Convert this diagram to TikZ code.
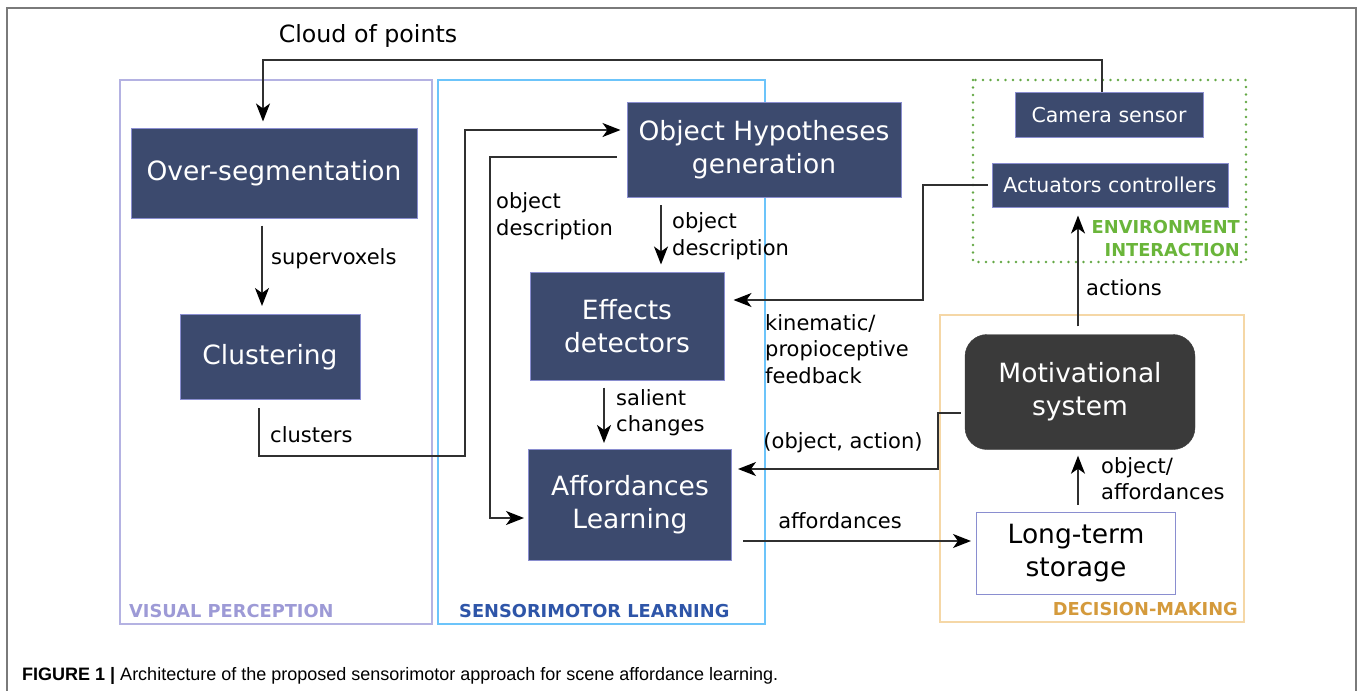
\documentclass[tikz,border=0pt]{standalone}
\usepackage{fontspec}
\setmainfont{DejaVu Sans}
\newfontfamily\capfont{Liberation Sans}
\usetikzlibrary{arrows.meta}
\definecolor{navy}{HTML}{3C4A6E}
\definecolor{navyedge}{HTML}{8A8ED0}
\definecolor{motiv}{HTML}{3A3A3A}
\definecolor{vpcol}{HTML}{B4B2E2}
\definecolor{vptext}{HTML}{9D9AD6}
\definecolor{smcol}{HTML}{6CC4FA}
\definecolor{smtext}{HTML}{2E55A8}
\definecolor{dmcol}{HTML}{F5D7A6}
\definecolor{dmtext}{HTML}{D49A3C}
\definecolor{eicol}{HTML}{64A845}
\definecolor{eitext}{HTML}{6AB53A}
\definecolor{linecol}{HTML}{303030}
\definecolor{framecol}{HTML}{7A7A7A}
\tikzset{
  bigfont/.style={font=\fontsize{26.5}{33}\selectfont},
  navybox/.style={draw=navyedge, line width=1pt, fill=navy, text=white, align=center, inner sep=0pt, bigfont},
  smallnavy/.style={navybox, font=\fontsize{20.5}{24}\selectfont},
  lbl/.style={font=\fontsize{21}{26.5}\selectfont, align=left, text=black, inner sep=0pt},
  grp/.style={font=\fontsize{17.8}{22.5}\selectfont\bfseries, inner sep=0pt},
  conn/.style={draw=linecol, line width=1.5pt, -{Stealth[length=18pt,width=14pt,inset=5pt,color=black]}},
}
\begin{document}
\begin{tikzpicture}[x=1pt,y=-1pt]
\useasboundingbox (0,0) rectangle (1358,691);
% outer frame
\draw[framecol, line width=1.5pt] (7,691) -- (7,8) -- (1356,8) -- (1356,691);
% group boxes
\draw[vpcol, line width=1.6pt] (120,80) rectangle (432,624);
\draw[smcol, line width=1.6pt] (438,80) rectangle (765,624);
\draw[eicol, line width=2.6pt, dash pattern=on 0pt off 7.5pt, line cap=round] (973,80) rectangle (1246,262);
\draw[dmcol, line width=1.6pt] (940,315) rectangle (1244,622);
% group labels
\node[grp, text=vptext, anchor=base west] (gvp) at (129,617) {VISUAL PERCEPTION};
\node[grp, text=smtext, anchor=base west] (gsm) at (459,617) {SENSORIMOTOR LEARNING};
\node[grp, text=dmtext, anchor=base east] (gdm) at (1238,615) {DECISION-MAKING};
\node[grp, text=eitext, anchor=base east, align=right] (gei) at (1240,256) {ENVIRONMENT\\INTERACTION};
% nodes
\node[navybox, minimum width=286pt, minimum height=90pt] (os) at (274,173) {Over-segmentation};
\node[navybox, minimum width=180pt, minimum height=85pt] (cl) at (270,357) {Clustering};
\node[navybox, minimum width=274pt, minimum height=95pt] (ohg) at (764,150) {Object Hypotheses\\generation};
\node[navybox, minimum width=194pt, minimum height=108pt] (ed) at (627,326) {Effects\\detectors};
\node[navybox, minimum width=203pt, minimum height=111pt] (al) at (630,505) {Affordances\\Learning};
\node[smallnavy, minimum width=188pt, minimum height=45pt] (cam) at (1109,115) {Camera sensor};
\node[smallnavy, minimum width=236pt, minimum height=44pt] (act) at (1110,185) {Actuators controllers};
\node[draw=motiv, fill=motiv, rounded corners=22pt, text=white, align=center, inner sep=0pt, bigfont, minimum width=230pt, minimum height=115pt] (mot) at (1080,392) {Motivational\\system};
\node[draw=navyedge, line width=1pt, fill=white, text=black, align=center, inner sep=0pt, bigfont, minimum width=199pt, minimum height=82pt] (lts) at (1076,553) {Long-term\\storage};
% connectors
\coordinate (cp1) at (1102,60);
\coordinate (cp2) at (263,60);
\draw[conn] (cam.north -| cp1) -- (cp1) -- (cp2) -- ([yshift=6pt]cp2 |- os.north);
\node[lbl, font=\fontsize{23.7}{28}\selectfont] (tcp) at (368,36) {Cloud of points};

\draw[conn] ([yshift=-7pt]os.south -| 262,0) -- ([yshift=8pt]cl.north -| 262,0);
\node[lbl, anchor=west] (tsv) at (271,259) {supervoxels};

\coordinate (c1) at (259,456);
\coordinate (c2) at (465,456);
\draw[conn] ([yshift=-8pt]cl.south -| c1) -- (c1) -- (c2) -- (c2 |- 0,130) -- ([xshift=-6pt]ohg.west |- 0,130);
\node[lbl, anchor=west] (tcl) at (270,435) {clusters};

\coordinate (d1) at (490,157);
\draw[conn] ([xshift=-10pt]ohg.west |- d1) -- (d1) -- (d1 |- 0,518) -- ([xshift=-4pt]al.west |- 0,518);
\node[lbl, anchor=west] (tod1) at (496,216) {object\\description};

\draw[conn] ([yshift=-7pt]ohg.south -| 661,0) -- ([yshift=7pt]ed.north -| 661,0);
\node[lbl, anchor=west] (tod2) at (672,236) {object\\description};

\coordinate (e1) at (923,185);
\draw[conn] ([xshift=-4pt]act.west |- e1) -- (e1) -- (e1 |- 0,300) -- ([xshift=9pt]ed.east |- 0,300);
\node[lbl, anchor=north west] (tkin) at (765,314) {kinematic/\\propioceptive\\feedback};

\draw[conn] ([yshift=-7pt]ed.south -| 604,0) -- ([yshift=6pt]al.north -| 604,0);
\node[lbl, anchor=north west] (tsal) at (616,389) {salient\\changes};

\coordinate (f1) at (938,413);
\draw[conn] ([xshift=-4pt]mot.west |- f1) -- (f1) -- (f1 |- 0,469) -- ([xshift=6pt]al.east |- 0,469);
\node[lbl] (toa) at (843,443) {(object, action)};

\draw[conn] ([xshift=11pt]al.east |- 0,541) -- ([xshift=-5pt]lts.west |- 0,541);
\node[lbl] (taff) at (840,521) {affordances};

\draw[conn] ([yshift=7pt]lts.north -| 1078,0) -- ([yshift=-6pt]mot.south -| 1078,0);
\node[lbl, anchor=north west] (toa2) at (1101,457) {object/\\affordances};

\draw[conn] ([yshift=8pt]mot.north -| 1078,0) -- ([yshift=-8pt]act.south -| 1078,0);
\node[lbl, anchor=west] (tact) at (1086,288) {actions};

% caption
\node[anchor=base west, inner sep=0pt, font=\capfont\fontsize{18}{21}\selectfont] (cap) at (22,680) {\textbf{FIGURE 1 |} Architecture of the proposed sensorimotor approach for scene affordance learning.};
\end{tikzpicture}
\end{document}
